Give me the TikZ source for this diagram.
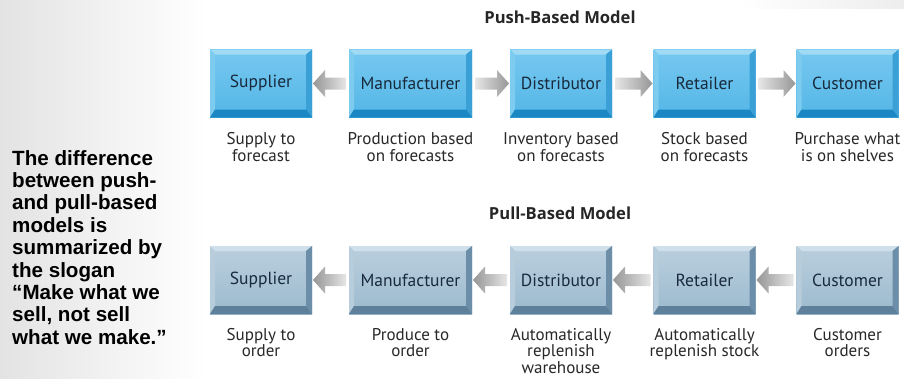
\documentclass[tikz,border=0pt]{standalone}
\usepackage{fontspec}
\setmainfont{PT Sans}
\newfontfamily\arialfont{Liberation Sans}
\newfontfamily\titlefont{Open Sans}
\usetikzlibrary{calc}
\definecolor{pushface}{RGB}{84,182,230}
\definecolor{pushfacetop}{RGB}{118,200,240}
\definecolor{pushtop}{RGB}{160,218,245}
\definecolor{pushleft}{RGB}{125,204,240}
\definecolor{pushright}{RGB}{58,160,214}
\definecolor{pushbottom}{RGB}{27,136,196}
\definecolor{pullface}{RGB}{156,186,206}
\definecolor{pullfacetop}{RGB}{186,207,222}
\definecolor{pulltop}{RGB}{208,224,234}
\definecolor{pullleft}{RGB}{184,205,220}
\definecolor{pullright}{RGB}{108,142,168}
\definecolor{pullbottom}{RGB}{94,128,155}
\definecolor{boxtext}{RGB}{24,42,60}
\definecolor{captext}{RGB}{40,40,40}
\definecolor{arrlight}{RGB}{230,230,230}
\definecolor{arrdark}{RGB}{150,150,150}
\tikzset{
  bevelbox/.style n args={6}{
    fill=#1, draw=none, minimum height=68pt, inner sep=0pt, outer sep=0pt,
    text=boxtext, font=\fontsize{17.5}{20}\selectfont,
    path picture={
      \shade[top color=#6, bottom color=#1]
        (path picture bounding box.south west) rectangle (path picture bounding box.north east);
      \fill[#2] (path picture bounding box.north west) -- (path picture bounding box.north east)
        -- ([shift={(-6pt,-5pt)}]path picture bounding box.north east)
        -- ([shift={(5pt,-5pt)}]path picture bounding box.north west) -- cycle;
      \fill[#3] (path picture bounding box.north west) -- ([shift={(5pt,-5pt)}]path picture bounding box.north west)
        -- ([shift={(5pt,8pt)}]path picture bounding box.south west)
        -- (path picture bounding box.south west) -- cycle;
      \fill[#4] (path picture bounding box.north east) -- ([shift={(-6pt,-5pt)}]path picture bounding box.north east)
        -- ([shift={(-6pt,8pt)}]path picture bounding box.south east)
        -- (path picture bounding box.south east) -- cycle;
      \fill[#5] (path picture bounding box.south west) -- ([shift={(5pt,8pt)}]path picture bounding box.south west)
        -- ([shift={(-6pt,8pt)}]path picture bounding box.south east)
        -- (path picture bounding box.south east) -- cycle;
    }},
  pushbox/.style={bevelbox={pushface}{pushtop}{pushleft}{pushright}{pushbottom}{pushfacetop}},
  pullbox/.style={bevelbox={pullface}{pulltop}{pullleft}{pullright}{pullbottom}{pullfacetop}},
  narrowbox/.style={minimum width=102pt},
  widebox/.style={minimum width=123pt},
  captionnode/.style={anchor=north, align=center, inner sep=0pt, text=captext,
    font=\fontsize{17}{16.6}\selectfont},
  titlenode/.style={inner sep=0pt, text=black!85, font=\titlefont\bfseries\fontsize{16.6}{18}\selectfont},
  slogannode/.style={anchor=north west, align=left, inner sep=0pt, text=black,
    font=\arialfont\bfseries\fontsize{20.6}{22.4}\selectfont}
}
\newcommand{\rarr}[2]{%
  \shade[left color=arrlight, right color=arrdark]
    ($(#1.east)+(3,6)$) -- ($(#2.west)+(-13,6)$) -- ($(#2.west)+(-13,13.5)$)
    -- ($(#2.west)+(-1,0)$) -- ($(#2.west)+(-13,-13.5)$) -- ($(#2.west)+(-13,-6)$)
    -- ($(#1.east)+(3,-6)$) -- cycle;}
\newcommand{\larr}[2]{%
  \shade[left color=arrdark, right color=arrlight]
    ($(#2.west)+(-3,6)$) -- ($(#1.east)+(13,6)$) -- ($(#1.east)+(13,13.5)$)
    -- ($(#1.east)+(1,0)$) -- ($(#1.east)+(13,-13.5)$) -- ($(#1.east)+(13,-6)$)
    -- ($(#2.west)+(-3,-6)$) -- cycle;}
\begin{document}
\begin{tikzpicture}[x=1pt,y=1pt]
\useasboundingbox (0,0) rectangle (904,-378);
\fill[white] (0,0) rectangle (904,-378);
\shade[left color=black!11, right color=white] (0,0) rectangle (205,-378);
\shade[left color=white, right color=black!7] (740,0) rectangle (904,-8);

% titles
\node[titlenode] (pushtitle) at (560,-17.5) {Push-Based Model};
\node[titlenode] (pulltitle) at (560,-213.5) {Pull-Based Model};

% push row
\node[pushbox, narrowbox] (ps) at (261,-83.5) {Supplier};
\node[pushbox, widebox] (pm) at (410.5,-83.5) {Manufacturer};
\node[pushbox, narrowbox] (pd) at (561,-83.5) {Distributor};
\node[pushbox, narrowbox] (pr) at (704.5,-83.5) {Retailer};
\node[pushbox, narrowbox] (pc) at (847.5,-83.5) {Customer};

\larr{ps}{pm}
\rarr{pm}{pd}
\rarr{pd}{pr}
\rarr{pr}{pc}

\node[captionnode] (psc) at ($(ps.south)+(0,-15)$) {Supply to\\forecast};
\node[captionnode] (pmc) at ($(pm.south)+(0,-15)$) {Production based\\on forecasts};
\node[captionnode] (pdc) at ($(pd.south)+(0,-15)$) {Inventory based\\on forecasts};
\node[captionnode] (prc) at ($(pr.south)+(0,-15)$) {Stock based\\on forecasts};
\node[captionnode] (pcc) at ($(pc.south)+(0,-15)$) {Purchase what\\is on shelves};

% pull row
\node[pullbox, narrowbox] (ls) at (261,-280) {Supplier};
\node[pullbox, widebox] (lm) at (410.5,-280) {Manufacturer};
\node[pullbox, narrowbox] (ld) at (561,-280) {Distributor};
\node[pullbox, narrowbox] (lr) at (704.5,-280) {Retailer};
\node[pullbox, narrowbox] (lc) at (847.5,-280) {Customer};

\larr{ls}{lm}
\larr{lm}{ld}
\larr{ld}{lr}
\larr{lr}{lc}

\node[captionnode] (lsc) at ($(ls.south)+(0,-14)$) {Supply to\\order};
\node[captionnode] (lmc) at ($(lm.south)+(0,-14)$) {Produce to\\order};
\node[captionnode] (ldc) at ($(ld.south)+(0,-14)$) {Automatically\\replenish\\warehouse};
\node[captionnode] (lrc) at ($(lr.south)+(0,-14)$) {Automatically\\replenish stock};
\node[captionnode] (lcc) at ($(lc.south)+(0,-14)$) {Customer\\orders};

% slogan
\node[slogannode] (slogan) at (12,-150) {The difference\\between push-\\and pull-based\\models is\\summarized by\\the slogan\\“Make what we\\sell, not sell\\what we make.”};
\end{tikzpicture}
\end{document}
